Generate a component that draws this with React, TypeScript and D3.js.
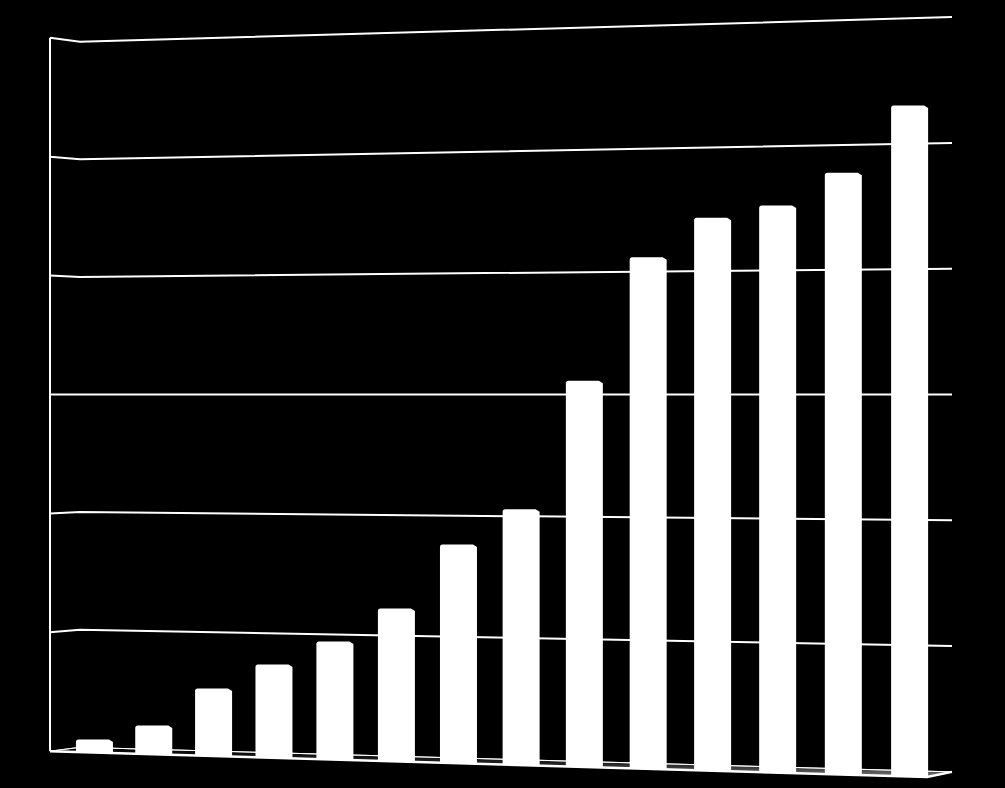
import * as d3 from 'd3';

// categories (no labels shown on the chart) and values, one gridline step = 10
const CATEGORIES = ['1', '2', '3', '4', '5', '6', '7', '8', '9', '10', '11', '12', '13', '14'];
const VALUES = [1.1, 2.4, 5.6, 7.7, 9.7, 12.5, 17.8, 20.7, 31.1, 41.0, 44.1, 45.0, 47.5, 52.7];
const TICKS = [0, 10, 20, 30, 40, 50, 60];

const W = 1005;
const H = 788;

// perspective setup: the view is level with the 30 gridline
const HORIZON = 394.5;
const MID_VALUE = 30;
const STEP = 10;
const FRONT = { x0: 50, x1: 927, u0: 118.9, u1: 127.5 };
const BACK = { x0: 80, x1: 952, u0: 117.6, u1: 125.8 };
const BAR_X0 = 65;
const BAR_X1 = 943;
const PERSP = 0.063;
const BAR_W = 37;

type Plane = typeof FRONT;

const unitAt = (p: Plane, x: number) =>
  d3.scaleLinear().domain([p.x0, p.x1]).range([p.u0, p.u1])(x);

const yAt = (p: Plane, x: number, v: number) =>
  HORIZON - ((v - MID_VALUE) / STEP) * unitAt(p, x);

const band = d3.scaleBand<string>().domain(CATEGORIES).range([0, 1]).padding(0);
const persp = (u: number) => (u * (1 - PERSP)) / (1 - PERSP * u);
const barX = d3.scaleLinear().domain([0, 1]).range([BAR_X0, BAR_X1]);
const centerX = (c: string) => barX(persp((band(c) ?? 0) + band.bandwidth() / 2));

const barPath = (x0: number, x1: number, top: number, base: number) => {
  const r = 2.5;
  return `M${x0},${base}L${x0},${top + r}Q${x0},${top} ${x0 + r},${top}` +
    `L${x1 - 4},${top}L${x1},${top + 2.5}L${x1},${base}Z`;
};

export default function App() {
  const floorFrontL: [number, number] = [FRONT.x0, yAt(FRONT, FRONT.x0, 0)];
  const floorFrontR: [number, number] = [FRONT.x1, yAt(FRONT, FRONT.x1, 0)];
  const floorBackR: [number, number] = [BACK.x1, yAt(BACK, BACK.x1, 0)];
  const floorBackL: [number, number] = [BACK.x0, yAt(BACK, BACK.x0, 0)];
  const line = d3.line();

  return (
    <div style={{ position: 'fixed', left: 0, top: 0, width: W, height: H, background: '#000' }}>
      <svg width={W} height={H} style={{ display: 'block' }}>
        <defs>
          <linearGradient id="floorShade" x1="0" y1="0" x2="0" y2="1">
            <stop offset="0%" stopColor="#000" />
            <stop offset="55%" stopColor="#222" />
            <stop offset="100%" stopColor="#777" />
          </linearGradient>
        </defs>
        <rect width={W} height={H} fill="#000" />

        {/* floor */}
        <path
          d={line([floorFrontL, floorFrontR, floorBackR, floorBackL])! + 'Z'}
          fill="url(#floorShade)"
          stroke="#ddd"
          strokeWidth={1}
        />
        <path d={line([floorFrontL, floorFrontR, floorBackR])!} fill="none" stroke="#fff" strokeWidth={2.5} />

        {/* left wall edge */}
        <line
          x1={FRONT.x0}
          x2={FRONT.x0}
          y1={yAt(FRONT, FRONT.x0, 0)}
          y2={yAt(FRONT, FRONT.x0, TICKS[TICKS.length - 1])}
          stroke="#fff"
          strokeWidth={2}
        />

        {/* gridlines */}
        {TICKS.map((t) => (
          <path
            key={t}
            d={line([
              [FRONT.x0, yAt(FRONT, FRONT.x0, t)],
              [BACK.x0, yAt(BACK, BACK.x0, t)],
              [BACK.x1, yAt(BACK, BACK.x1, t)],
            ])!}
            fill="none"
            stroke="#fff"
            strokeWidth={t === 0 ? 1 : 2}
            strokeLinejoin="round"
          />
        ))}

        {/* bars */}
        {CATEGORIES.map((c, i) => {
          const xc = centerX(c);
          const base = yAt(FRONT, xc, 0);
          const top = yAt(FRONT, xc, VALUES[i]);
          return (
            <path key={c} d={barPath(xc - BAR_W / 2, xc + BAR_W / 2, top, base)} fill="#fff" />
          );
        })}
      </svg>
    </div>
  );
}
